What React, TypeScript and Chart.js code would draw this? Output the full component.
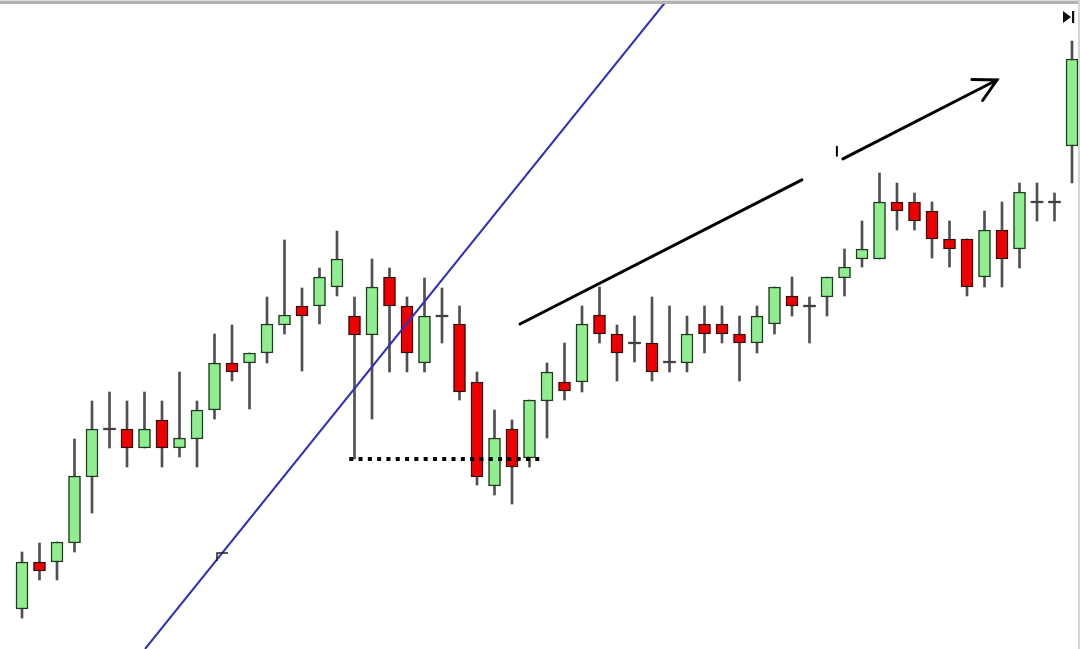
import React, { useEffect, useRef } from "react";
import { Chart, registerables } from "chart.js";

Chart.register(...registerables);

// Candle data (index 0..60), price units
const opens = [40, 87, 87, 106, 172, 220, 220, 201, 229, 201, 210, 239, 286, 286, 296, 324, 343, 343, 362, 333, 314, 372, 343, 286, 333, 325, 267, 163, 220, 191, 248, 267, 267, 334, 315, 306, 306, 287, 286, 325, 325, 315, 306, 325, 353, 343, 352, 371, 390, 390, 447, 447, 438, 410, 410, 372, 419, 400, 447, 447, 503];
const highs = [97, 106, 107, 210, 248, 257, 248, 257, 248, 277, 248, 315, 324, 296, 352, 409, 361, 381, 418, 352, 390, 381, 352, 371, 361, 343, 277, 239, 229, 249, 286, 306, 343, 362, 324, 333, 352, 343, 333, 343, 343, 333, 343, 362, 372, 352, 372, 400, 428, 476, 466, 456, 447, 428, 410, 438, 447, 466, 466, 456, 608];
const lows = [31, 69, 69, 97, 136, 201, 182, 201, 182, 192, 182, 230, 268, 240, 286, 315, 278, 325, 353, 190, 230, 277, 277, 277, 306, 249, 164, 154, 145, 182, 211, 249, 257, 306, 268, 287, 268, 277, 277, 296, 306, 268, 296, 315, 333, 306, 333, 353, 382, 390, 419, 419, 391, 382, 353, 362, 362, 381, 428, 428, 466];
const closes = [87, 78, 107, 173, 220, 220, 201, 220, 201, 211, 239, 286, 277, 296, 325, 334, 333, 372, 390, 314, 362, 343, 296, 333, 333, 257, 172, 211, 182, 249, 277, 258, 325, 315, 296, 306, 277, 287, 315, 315, 315, 306, 333, 362, 343, 343, 372, 382, 400, 447, 438, 428, 410, 400, 362, 419, 390, 457, 447, 447, 590];

// Drawn annotations, in (candle index, price) coordinates
const trendLine = [[7.03, 0], [36.86, 649]];
const supportLine = [[18.7, 190], [29.8, 190]];
const arrowLine = [[28.46, 325], [55.71, 569]];
const arrowGap = [0.591, 0.677];

const GREEN = "#90ee90";
const RED = "#ee0000";

const overlay = {
  id: "overlay",
  afterDatasetsDraw(chart: any) {
    const { ctx } = chart;
    const xs = chart.scales.x;
    const ys = chart.scales.y;
    const P = (p: number[]) => [xs.getPixelForValue(p[0]), ys.getPixelForValue(p[1])];
    ctx.save();

    // blue trend line
    const [a, b] = trendLine.map(P);
    ctx.strokeStyle = "#2f2fc4";
    ctx.lineWidth = 2;
    ctx.beginPath();
    ctx.moveTo(a[0], a[1]);
    ctx.lineTo(b[0], b[1]);
    ctx.stroke();

    // small corner mark on the trend line
    ctx.strokeStyle = "#222";
    ctx.lineWidth = 1.5;
    ctx.beginPath();
    ctx.moveTo(228, 553);
    ctx.lineTo(217, 553);
    ctx.lineTo(217, 561);
    ctx.stroke();

    // dotted support line
    const [s1, s2] = supportLine.map(P);
    ctx.strokeStyle = "#000";
    ctx.lineWidth = 4;
    ctx.setLineDash([4, 5.3]);
    ctx.beginPath();
    ctx.moveTo(s1[0], s1[1]);
    ctx.lineTo(s2[0], s2[1]);
    ctx.stroke();
    ctx.setLineDash([]);

    // arrow
    const [r1, r2] = arrowLine.map(P);
    const lerp = (t: number) => [r1[0] + (r2[0] - r1[0]) * t, r1[1] + (r2[1] - r1[1]) * t];
    const g1 = lerp(arrowGap[0]);
    const g2 = lerp(arrowGap[1]);
    ctx.strokeStyle = "#000";
    ctx.lineWidth = 3;
    ctx.lineCap = "round";
    ctx.beginPath();
    ctx.moveTo(r1[0], r1[1]);
    ctx.lineTo(g1[0], g1[1]);
    ctx.moveTo(g2[0], g2[1]);
    ctx.lineTo(r2[0], r2[1]);
    ctx.stroke();
    // small tick in the gap
    ctx.lineWidth = 2;
    ctx.beginPath();
    ctx.moveTo(g2[0] - 6, g2[1] - 12);
    ctx.lineTo(g2[0] - 6, g2[1] - 3);
    ctx.stroke();
    // arrow head
    const back = Math.atan2(r1[1] - r2[1], r1[0] - r2[0]);
    const len = 25;
    const spread = (28 * Math.PI) / 180;
    ctx.lineWidth = 3;
    ctx.beginPath();
    ctx.moveTo(r2[0] + len * Math.cos(back + spread), r2[1] + len * Math.sin(back + spread));
    ctx.lineTo(r2[0], r2[1]);
    ctx.lineTo(r2[0] + len * Math.cos(back - spread), r2[1] + len * Math.sin(back - spread));
    ctx.stroke();

    ctx.restore();
  },
  afterDraw(chart: any) {
    const { ctx, width, height } = chart;
    ctx.save();
    // window frame
    ctx.fillStyle = "#dcdcdc";
    ctx.fillRect(0, 0, width, 1);
    ctx.fillStyle = "#b3b3b3";
    ctx.fillRect(0, 1, width, 3);
    ctx.fillStyle = "#d6d6d6";
    ctx.fillRect(width - 2, 0, 2, height);
    // scroll-to-end icon
    ctx.fillStyle = "#111";
    ctx.beginPath();
    ctx.moveTo(1063, 11);
    ctx.lineTo(1071, 17);
    ctx.lineTo(1063, 23);
    ctx.closePath();
    ctx.fill();
    ctx.fillRect(1072, 11, 2.2, 12);
    ctx.restore();
  },
};

export default function App() {
  const ref = useRef<HTMLCanvasElement | null>(null);

  useEffect(() => {
    if (!ref.current) return;
    const idx = opens.map((_, i) => i);
    const bodyIdx = idx.filter((i) => opens[i] !== closes[i]);
    const dojiIdx = idx.filter((i) => opens[i] === closes[i]);

    const chart = new Chart(ref.current, {
      type: "bar",
      data: {
        datasets: [
          {
            label: "wicks",
            data: idx.map((i) => ({ x: i, y: [lows[i], highs[i]] })) as any,
            backgroundColor: "#505050",
            barThickness: 2,
            order: 3,
          },
          {
            label: "bodies",
            data: bodyIdx.map((i) => ({ x: i, y: [opens[i], closes[i]] })) as any,
            backgroundColor: bodyIdx.map((i) => (closes[i] > opens[i] ? GREEN : RED)),
            borderColor: bodyIdx.map((i) => (closes[i] > opens[i] ? "#1f3a1f" : "#3a0a0a")),
            borderWidth: 1.5,
            borderSkipped: false,
            barThickness: 12,
            order: 1,
          },
          {
            label: "doji",
            data: dojiIdx.map((i) => ({ x: i, y: [opens[i] - 0.8, opens[i] + 0.8] })) as any,
            backgroundColor: "#404040",
            barThickness: 12,
            order: 2,
          },
        ],
      },
      options: {
        animation: false,
        responsive: false,
        maintainAspectRatio: false,
        events: [],
        layout: { padding: 0 },
        datasets: { bar: { grouped: false } } as any,
        scales: {
          x: {
            type: "linear",
            offset: false,
            bounds: "ticks",
            min: -22 / 17.5,
            max: (1080 - 22) / 17.5,
            display: false,
          },
          y: { type: "linear", min: 0, max: 649, display: false },
        },
        plugins: {
          legend: { display: false },
          tooltip: { enabled: false },
        },
      },
      plugins: [overlay],
    });
    return () => chart.destroy();
  }, []);

  return (
    <div style={{ position: "fixed", left: 0, top: 0, width: 1080, height: 649, background: "#fff" }}>
      <canvas ref={ref} width={1080} height={649} style={{ display: "block" }} />
    </div>
  );
}
